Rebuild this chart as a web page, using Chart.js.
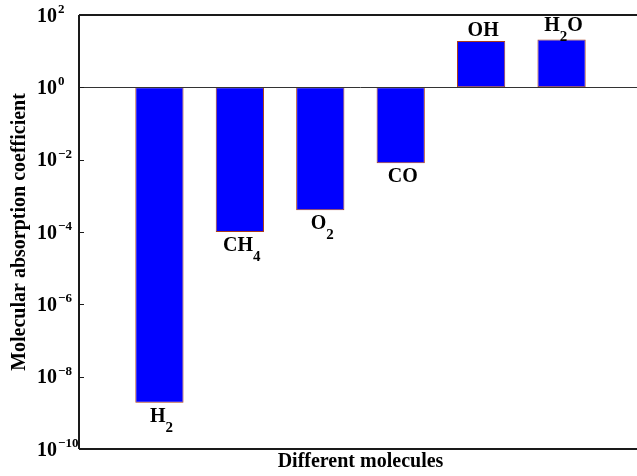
<!DOCTYPE html>
<html>
<head>
<meta charset="utf-8">
<script src="https://cdn.jsdelivr.net/npm/chart.js@4.4.1/dist/chart.umd.min.js"></script>
<style>
  html, body { margin: 0; padding: 0; background: #fff; overflow: hidden; }
  #wrap { position: relative; width: 646px; height: 476px; }
</style>
</head>
<body>
<div id="wrap"><canvas id="c"></canvas></div>
<script>
// Molecule names ("_" marks a one-character subscript) and their x positions
const molecules = ['H_2', 'CH_4', 'O_2', 'CO', 'OH', 'H_2O'];
const positions = [1, 2, 3, 4, 5, 6];
// Molecular absorption coefficients
const coefficients = [1.9e-9, 1.0e-4, 4.0e-4, 8.0e-3, 19, 21];
// Bars grow from this reference value
const baseline = 1;
// Decade exponents that carry a tick label
const yTickExponents = [2, 0, -2, -4, -6, -8, -10];
const yMin = 1e-10, yMax = 1e2;
const xMin = 0, xMax = 7;

const xTitle = 'Different molecules';
const yTitle = 'Molecular absorption coefficient';

const FAMILY = '"Liberation Serif", "Times New Roman", serif';
const mainFont = 'bold 20px ' + FAMILY;
const subFont = 'bold 15px ' + FAMILY;
const expFont = 'bold 13px ' + FAMILY;
const SUB_DROP = 10;

function parseRich(s) {
  const parts = [];
  for (let i = 0; i < s.length; i++) {
    if (s[i] === '_' && i + 1 < s.length) { parts.push({ t: s[i + 1], sub: true }); i++; }
    else parts.push({ t: s[i], sub: false });
  }
  return parts;
}

function drawRich(ctx, text, cx, baseY) {
  const parts = parseRich(text);
  let total = 0;
  parts.forEach(p => { ctx.font = p.sub ? subFont : mainFont; p.w = ctx.measureText(p.t).width; total += p.w; });
  let x = cx - total / 2;
  ctx.textAlign = 'left';
  ctx.textBaseline = 'alphabetic';
  parts.forEach(p => {
    ctx.font = p.sub ? subFont : mainFont;
    ctx.fillText(p.t, x, p.sub ? baseY + SUB_DROP : baseY);
    x += p.w;
  });
}

const decorations = {
  id: 'decorations',
  afterDatasetsDraw(chart) {
    const ctx = chart.ctx;
    const ys = chart.scales.y;
    const { left, right, top, bottom } = chart.chartArea;
    ctx.save();

    // reference line at the bar base
    const y0 = Math.round(ys.getPixelForValue(baseline)) + 0.5;
    ctx.strokeStyle = '#333';
    ctx.lineWidth = 1;
    ctx.beginPath(); ctx.moveTo(left, y0); ctx.lineTo(right, y0); ctx.stroke();

    // frame: top, bottom and left axis lines
    ctx.strokeStyle = '#1a1a1a';
    ctx.lineWidth = 2;
    ctx.beginPath();
    ctx.moveTo(left, top); ctx.lineTo(right, top);
    ctx.moveTo(left, bottom); ctx.lineTo(right, bottom);
    ctx.moveTo(left, top); ctx.lineTo(left, bottom);
    ctx.stroke();

    // inward tick marks on both sides
    yTickExponents.forEach(e => {
      const py = Math.round(ys.getPixelForValue(Math.pow(10, e))) + 0.5;
      ctx.strokeStyle = '#1a1a1a';
      ctx.lineWidth = 1;
      ctx.beginPath(); ctx.moveTo(left, py); ctx.lineTo(left + 5, py); ctx.stroke();
      ctx.strokeStyle = '#bbb';
      ctx.beginPath(); ctx.moveTo(right, py); ctx.lineTo(right - 5, py); ctx.stroke();
    });

    // tick labels: 10 with a raised exponent
    ctx.fillStyle = '#000';
    yTickExponents.forEach(e => {
      const py = ys.getPixelForValue(Math.pow(10, e));
      ctx.textBaseline = 'alphabetic';
      ctx.font = mainFont;
      ctx.textAlign = 'right';
      ctx.fillText('10', left - 22, py + 6.5);
      ctx.font = expFont;
      ctx.textAlign = 'left';
      const exp = e < 0 ? '\u2212' + Math.abs(e) : String(e);
      ctx.fillText(exp, left - 21, py - 2);
    });

    // molecule labels at the bar ends
    const meta = chart.getDatasetMeta(0);
    meta.data.forEach((bar, i) => {
      const v = coefficients[i];
      const py = ys.getPixelForValue(v);
      const hasSub = molecules[i].includes('_');
      let baseY;
      if (v < baseline) baseY = py + 19;
      else baseY = py - 5 - (hasSub ? 4 : 0);
      drawRich(ctx, molecules[i], bar.x + 2, baseY);
    });

    // axis titles
    ctx.font = mainFont;
    ctx.textAlign = 'center';
    ctx.textBaseline = 'alphabetic';
    ctx.fillText(xTitle, (left + right) / 2, bottom + 18);
    ctx.translate(25, (top + bottom) / 2);
    ctx.rotate(-Math.PI / 2);
    ctx.fillText(yTitle, 0, 0);
    ctx.restore();
  }
};

new Chart(document.getElementById('c'), {
  type: 'bar',
  data: {
    datasets: [{
      data: positions.map((x, i) => ({ x: x, y: [baseline, coefficients[i]] })),
      backgroundColor: '#0000ff',
      borderColor: '#a83c1c',
      borderWidth: 1,
      borderSkipped: false,
      barPercentage: 0.6,
      categoryPercentage: 1
    }]
  },
  options: {
    responsive: true,
    maintainAspectRatio: false,
    animation: false,
    events: [],
    layout: { padding: { left: 79, top: 15, right: 4, bottom: 27 } },
    plugins: { legend: { display: false }, tooltip: { enabled: false } },
    scales: {
      x: { type: 'linear', min: xMin, max: xMax, offset: false, display: false },
      y: { type: 'logarithmic', min: yMin, max: yMax, display: false }
    }
  },
  plugins: [decorations]
});
</script>
</body>
</html>
